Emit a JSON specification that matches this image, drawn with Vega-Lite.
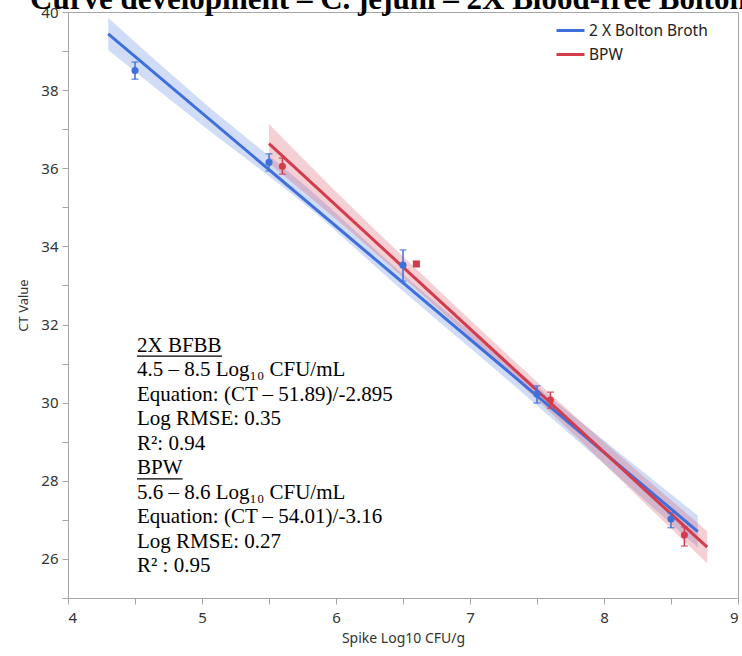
{
  "$schema": "https://vega.github.io/schema/vega-lite/v6.json",
  "width": 670,
  "height": 586,
  "autosize": {"type": "none"},
  "padding": {"left": 68, "top": 12, "right": 4, "bottom": 58},
  "background": "white",
  "title": {
    "text": "Curve development – C. jejuni – 2X Blood-free Bolton Broth",
    "anchor": "start",
    "frame": "group",
    "font": "Liberation Serif",
    "fontSize": 31,
    "fontWeight": "bold",
    "color": "black",
    "dx": -38,
    "dy": 35,
    "offset": 0,
    "baseline": "alphabetic"
  },
  "config": {
    "view": {"stroke": "#a6a6a6", "strokeWidth": 1},
    "axis": {
      "grid": false,
      "domainColor": "#a6a6a6",
      "tickColor": "#a6a6a6",
      "tickSize": 6,
      "labelFont": "Noto Sans",
      "labelFontSize": 15,
      "labelColor": "#333333",
      "titleFont": "Noto Sans",
      "titleFontSize": 13,
      "titleFontWeight": "normal",
      "titleColor": "#333333"
    }
  },
  "datasets": {
    "replicates": [
      {"medium": "2 X Bolton Broth", "spike": 4.5, "ct": 38.5, "lo": 38.28, "hi": 38.72},
      {"medium": "2 X Bolton Broth", "spike": 5.5, "ct": 36.15, "lo": 35.93, "hi": 36.37},
      {"medium": "2 X Bolton Broth", "spike": 6.5, "ct": 33.52, "lo": 33.11, "hi": 33.91},
      {"medium": "2 X Bolton Broth", "spike": 7.5, "ct": 30.22, "lo": 29.99, "hi": 30.43},
      {"medium": "2 X Bolton Broth", "spike": 8.5, "ct": 27.02, "lo": 26.8, "hi": 27.18},
      {"medium": "BPW", "spike": 5.6, "ct": 36.05, "lo": 35.85, "hi": 36.26},
      {"medium": "BPW", "spike": 6.6, "ct": 33.55, "lo": 33.5, "hi": 33.6},
      {"medium": "BPW", "spike": 7.6, "ct": 30.07, "lo": 29.86, "hi": 30.27},
      {"medium": "BPW", "spike": 8.6, "ct": 26.61, "lo": 26.33, "hi": 26.82}
    ],
    "fits": [
      {"medium": "2 X Bolton Broth", "spike": 4.3, "ct": 39.44},
      {"medium": "2 X Bolton Broth", "spike": 8.7, "ct": 26.7},
      {"medium": "BPW", "spike": 5.5, "ct": 36.63},
      {"medium": "BPW", "spike": 8.77, "ct": 26.3}
    ],
    "bands": [
      {"medium": "2 X Bolton Broth", "spike": 4.3, "lo": 39.03, "hi": 39.85},
      {"medium": "2 X Bolton Broth", "spike": 5.0, "lo": 37.11, "hi": 37.72},
      {"medium": "2 X Bolton Broth", "spike": 5.8, "lo": 34.98, "hi": 35.46},
      {"medium": "2 X Bolton Broth", "spike": 6.5, "lo": 32.86, "hi": 33.28},
      {"medium": "2 X Bolton Broth", "spike": 7.2, "lo": 30.82, "hi": 31.26},
      {"medium": "2 X Bolton Broth", "spike": 8.0, "lo": 28.43, "hi": 29.03},
      {"medium": "2 X Bolton Broth", "spike": 8.7, "lo": 26.29, "hi": 27.11},
      {"medium": "BPW", "spike": 5.5, "lo": 36.13, "hi": 37.13},
      {"medium": "BPW", "spike": 6.0, "lo": 34.7, "hi": 35.4},
      {"medium": "BPW", "spike": 6.6, "lo": 32.9, "hi": 33.42},
      {"medium": "BPW", "spike": 7.2, "lo": 31.04, "hi": 31.48},
      {"medium": "BPW", "spike": 7.8, "lo": 29.1, "hi": 29.6},
      {"medium": "BPW", "spike": 8.3, "lo": 27.44, "hi": 28.1},
      {"medium": "BPW", "spike": 8.77, "lo": 25.89, "hi": 26.71}
    ]
  },
  "encoding": {
    "x": {
      "type": "quantitative",
      "scale": {"domain": [4, 9], "nice": false, "zero": false},
      "axis": {
        "title": "Spike Log10 CFU/g",
        "titleFontSize": 14,
        "values": [4, 4.5, 5, 5.5, 6, 6.5, 7, 7.5, 8, 8.5, 9],
        "format": ".1f",
        "labelExpr": "datum.value % 1 == 0 ? format(datum.value, 'd') : ''",
        "labelPadding": 6,
        "titlePadding": 6
      }
    },
    "y": {
      "type": "quantitative",
      "scale": {"domain": [25, 40], "nice": false, "zero": false},
      "axis": {
        "title": "CT Value",
        "values": [25, 26, 27, 28, 29, 30, 31, 32, 33, 34, 35, 36, 37, 38, 39, 40],
        "labelExpr": "datum.value % 2 == 0 ? datum.label : ''",
        "labelPadding": 4,
        "titlePadding": 10
      }
    },
    "color": {
      "field": "medium",
      "type": "nominal",
      "scale": {"domain": ["2 X Bolton Broth", "BPW"], "range": ["#3f6fdb", "#d33c4d"]},
      "legend": {
        "title": null,
        "orient": "none",
        "legendX": 487,
        "legendY": 3,
        "symbolType": "stroke",
        "symbolSize": 784,
        "symbolStrokeWidth": 3,
        "symbolOpacity": 1,
        "labelFont": "Noto Sans",
        "labelFontSize": 15.5,
        "labelColor": "#222222",
        "labelOffset": 3,
        "rowPadding": 0
      }
    }
  },
  "layer": [
    {
      "data": {"name": "bands"},
      "mark": {"type": "area", "opacity": 0.24, "interpolate": "monotone"},
      "encoding": {
        "x": {"field": "spike"},
        "y": {"field": "lo"},
        "y2": {"field": "hi"}
      }
    },
    {
      "data": {"name": "fits"},
      "mark": {"type": "line", "strokeWidth": 3},
      "encoding": {
        "x": {"field": "spike"},
        "y": {"field": "ct"}
      }
    },
    {
      "data": {"name": "replicates"},
      "mark": {"type": "errorbar", "ticks": {"size": 7, "thickness": 1.5}, "rule": {"strokeWidth": 1.5}},
      "encoding": {
        "x": {"field": "spike"},
        "y": {"field": "lo"},
        "y2": {"field": "hi"}
      }
    },
    {
      "data": {"name": "replicates"},
      "mark": {"type": "point", "filled": true, "opacity": 1, "size": 50},
      "encoding": {
        "x": {"field": "spike"},
        "y": {"field": "ct"},
        "shape": {"condition": {"test": "datum.spike == 6.6", "value": "square"}, "value": "circle"}
      }
    },
    {
      "data": {"values": [{"block": "fit statistics"}]},
      "mark": {
        "type": "text",
        "align": "left",
        "baseline": "alphabetic",
        "font": "Liberation Serif",
        "fontSize": 21,
        "lineHeight": 24.5,
        "color": "black",
        "text": [
          "2X BFBB",
          "4.5 – 8.5 Log₁₀ CFU/mL",
          "Equation: (CT – 51.89)/-2.895",
          "Log RMSE: 0.35",
          "R²: 0.94",
          "BPW",
          "5.6 – 8.6 Log₁₀ CFU/mL",
          "Equation: (CT – 54.01)/-3.16",
          "Log RMSE: 0.27",
          "R² : 0.95"
        ]
      },
      "encoding": {
        "x": {"datum": 4.515},
        "y": {"datum": 31.3},
        "color": null
      }
    },
    {
      "data": {"values": [{"from": 4.515, "to": 5.15, "at": 31.19}, {"from": 4.515, "to": 4.855, "at": 28.05}]},
      "mark": {"type": "rule", "color": "black", "strokeWidth": 1.2},
      "encoding": {
        "x": {"field": "from"},
        "x2": {"field": "to"},
        "y": {"field": "at"},
        "color": null
      }
    }
  ]
}
